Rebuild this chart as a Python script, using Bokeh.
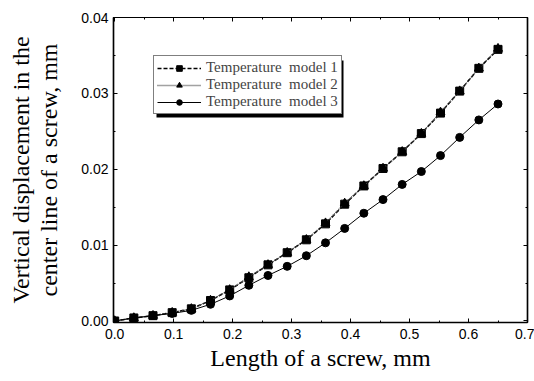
from bokeh.plotting import figure
from bokeh.models import (LinearAxis, Legend, LegendItem, BoxAnnotation,
                          NumeralTickFormatter, Range1d, FixedTicker, CustomJSTickFormatter)
from bokeh.embed import file_html
from bokeh.resources import INLINE

# ---- data ----
length_mm = [0.0, 0.0325, 0.065, 0.0975, 0.13, 0.1625, 0.195, 0.2275, 0.26, 0.2925,
             0.325, 0.3575, 0.39, 0.4225, 0.455, 0.4875, 0.52, 0.5525, 0.585, 0.6175, 0.65]
model1 = [0.0000, 0.0004, 0.0007, 0.0011, 0.0016, 0.0027, 0.0041, 0.0057, 0.0074, 0.0090,
          0.0107, 0.0128, 0.0154, 0.0178, 0.0201, 0.0223, 0.0247, 0.0274, 0.0303, 0.0333, 0.0358]
model2 = [0.0000, 0.0004, 0.0007, 0.0011, 0.0016, 0.0027, 0.0041, 0.0058, 0.0074, 0.0090,
          0.0107, 0.0129, 0.0155, 0.0178, 0.0201, 0.0223, 0.0247, 0.0275, 0.0303, 0.0333, 0.0359]
model3 = [0.0000, 0.0004, 0.0007, 0.0010, 0.0014, 0.0022, 0.0033, 0.0047, 0.0060, 0.0072,
          0.0086, 0.0103, 0.0122, 0.0142, 0.0160, 0.0180, 0.0197, 0.0218, 0.0242, 0.0265, 0.0286]
series_names = ["Temperature  model 1", "Temperature  model 2", "Temperature  model 3"]
x_ticks = [0.0, 0.1, 0.2, 0.3, 0.4, 0.5, 0.6, 0.7]
y_ticks = [0.00, 0.01, 0.02, 0.03, 0.04]
x_title = "Length of a screw, mm"
y_title = "Vertical displacement in the\ncenter line of a screw, mm"

SERIF = "Liberation Serif"
SANS = "Liberation Sans"

p = figure(width=534, height=381, output_backend="svg", toolbar_location=None,
           x_range=Range1d(-0.002, 0.7), y_range=Range1d(-0.0002, 0.04),
           min_border_left=113, min_border_right=7, min_border_top=17, min_border_bottom=59,
           background_fill_color="white", border_fill_color="white")
p.grid.visible = False
p.outline_line_color = "black"
p.outline_line_width = 1.2

x_minor = [t + 0.05 for t in x_ticks[:-1]]
y_minor = [t + 0.005 for t in y_ticks[:-1]]

# main axes
for ax in (p.xaxis[0], p.yaxis[0]):
    ax.axis_line_width = 1.5
    ax.major_tick_in = 4
    ax.major_tick_out = 0
    ax.minor_tick_in = 2
    ax.minor_tick_out = 0
    ax.major_label_text_font = SANS
    ax.major_label_text_font_size = "14px"
    ax.major_label_text_color = "black"
    ax.axis_label_text_font = SERIF
    ax.axis_label_text_font_size = "24px"
    ax.axis_label_text_font_style = "normal"
    ax.axis_label_text_color = "black"

p.xaxis[0].ticker = FixedTicker(ticks=x_ticks, minor_ticks=x_minor)
p.yaxis[0].ticker = FixedTicker(ticks=y_ticks, minor_ticks=y_minor)
p.xaxis[0].formatter = NumeralTickFormatter(format="0.0")
p.yaxis[0].formatter = NumeralTickFormatter(format="0.00")
p.xaxis[0].axis_label = x_title
p.yaxis[0].axis_label = y_title
p.xaxis[0].major_label_standoff = 6
p.xaxis[0].axis_label_standoff = 3
p.yaxis[0].major_label_standoff = 5
p.yaxis[0].axis_label_standoff = 16
p.yaxis[0].axis_label_text_line_height = 1.1

# mirror axes (ticks only)
blank = CustomJSTickFormatter(code="return ''")
top = LinearAxis(ticker=FixedTicker(ticks=x_ticks, minor_ticks=x_minor), formatter=blank,
                 major_label_text_color=None, major_tick_in=4, major_tick_out=0,
                 minor_tick_in=2, minor_tick_out=0, axis_line_width=1.2, major_label_standoff=0)
right = LinearAxis(ticker=FixedTicker(ticks=y_ticks, minor_ticks=y_minor), formatter=blank,
                   major_label_text_color=None, major_tick_in=4, major_tick_out=0,
                   minor_tick_in=2, minor_tick_out=0, axis_line_width=1.5, major_label_standoff=0)
p.add_layout(top, "above")
p.add_layout(right, "right")

# series
l1 = p.line(length_mm, model1, line_color="black", line_width=1.5, line_dash="4 2")
m1 = p.scatter(length_mm, model1, marker="square", size=8, fill_color="black", line_color="black")
l2 = p.line(length_mm, model2, line_color="#444444", line_width=1.4, line_dash="1 1")
m2 = p.scatter(length_mm, model2, marker="triangle", size=9, fill_color="black", line_color="black")
l3 = p.line(length_mm, model3, line_color="black", line_width=1.0)
m3 = p.scatter(length_mm, model3, marker="circle", size=8, fill_color="black", line_color="black")

# legend shadow
shadow = BoxAnnotation(left=0.0709, right=0.388, top=0.03433, bottom=0.02682,
                       fill_color="black", fill_alpha=1.0, line_color=None)
p.add_layout(shadow)

legend = Legend(items=[LegendItem(label=series_names[0], renderers=[l1, m1]),
                       LegendItem(label=series_names[1], renderers=[l2, m2]),
                       LegendItem(label=series_names[2], renderers=[l3, m3])],
                location=(40, 208), label_text_font=SERIF, label_text_font_size="15px",
                label_height=14, glyph_height=14, glyph_width=44, label_standoff=5,
                spacing=0, padding=3, margin=0, border_line_color="black", border_line_width=1,
                background_fill_color="white", background_fill_alpha=1.0)
p.add_layout(legend, "center")

open("out.html", "w").write(file_html(p, INLINE))
